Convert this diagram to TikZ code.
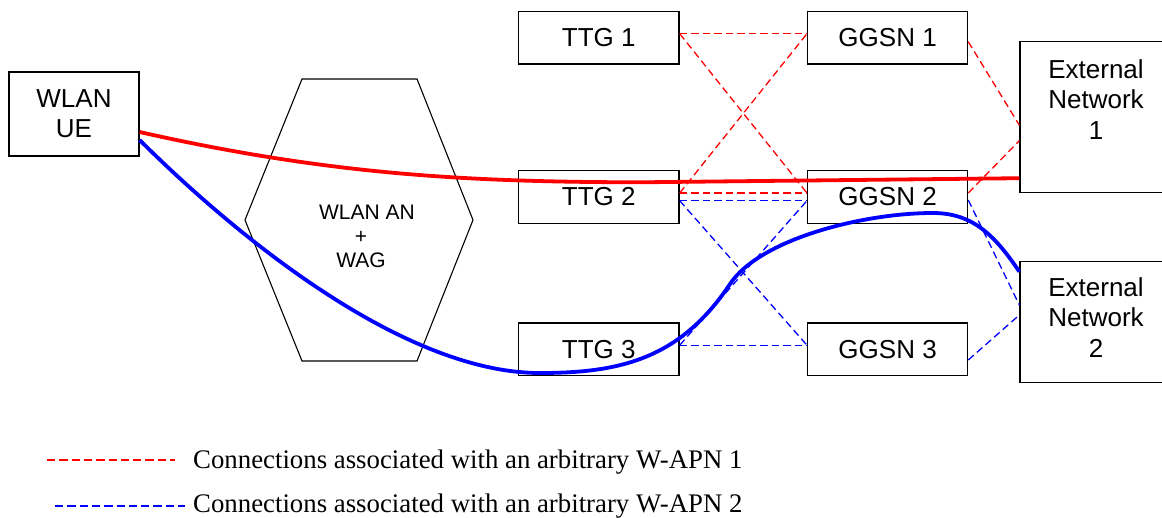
\documentclass[tikz,border=0pt]{standalone}
\usepackage{fontspec}
\setmainfont{Liberation Serif}
\setsansfont{Liberation Sans}
\begin{document}
\begin{tikzpicture}[x=1pt,y=-1pt,
  box/.style={draw=black, line width=1.3pt, rectangle, inner sep=0pt,
    font=\sffamily\fontsize{26}{30}\selectfont, align=center},
  boxlbl/.style={inner sep=0pt, font=\sffamily\fontsize{26}{30.5}\selectfont, align=center},
  hexlbl/.style={inner sep=0pt, font=\sffamily\fontsize{21}{24}\selectfont, align=center},
  apnone/.style={draw=red, line width=1.3pt, dash pattern=on 7.3pt off 4.2pt},
  apntwo/.style={draw=blue, line width=1.3pt, dash pattern=on 7.3pt off 4.2pt},
  legone/.style={draw=red, line width=1.6pt, dash pattern=on 8.3pt off 4pt},
  legtwo/.style={draw=blue, line width=1.6pt, dash pattern=on 8.3pt off 4pt},
  pathone/.style={draw=red, line width=3.8pt},
  pathtwo/.style={draw=blue, line width=3.8pt},
  legtext/.style={inner sep=0pt, anchor=base west, font=\fontsize{26.8}{30}\selectfont}]

\useasboundingbox (0,0) rectangle (1162,517);
\clip (0,0) rectangle (1162,517);

% terminal and access network
\node[box, minimum width=130, minimum height=84] (ue) at (74,114) {WLAN\\UE};
\draw[line width=1.1pt] (302,79) -- (417,79) -- (473,220) -- (417,361)
  -- (302,361) -- (245,220) -- cycle;
\node[hexlbl] (wag) at (361,236.5) {\hspace*{12pt}WLAN AN\\+\\WAG};

% tunnel terminating gateways
\node[box, minimum width=160.7, minimum height=52.7] (ttg1) at (598.7,37.7) {TTG 1};
\node[box, minimum width=160.7, minimum height=52.7] (ttg2) at (598.7,197) {TTG 2};
\node[box, minimum width=160.7, minimum height=52.7] (ttg3) at (598.7,349.2) {TTG 3};

% GGSNs
\node[box, minimum width=160, minimum height=52.7] (ggsn1) at (887.6,37.7) {GGSN 1};
\node[box, minimum width=160, minimum height=52.7] (ggsn2) at (887.6,197) {GGSN 2};
\node[box, minimum width=160, minimum height=52.7] (ggsn3) at (887.6,349.2) {GGSN 3};

% external networks
\node[box, minimum width=150, minimum height=151] (ext1) at (1095,117.2) {};
\node[boxlbl] (ext1lbl) at (1096,99.2) {External\\Network\\1};
\node[box, minimum width=150, minimum height=121] (ext2) at (1095,322.2) {};
\node[boxlbl] (ext2lbl) at (1096,317.4) {External\\Network\\2};

% W-APN 1 connections
\draw[apnone] ([yshift=4pt]ttg1.east) -- ([yshift=4pt]ggsn1.west);
\draw[apnone] ([yshift=4pt]ttg1.east) -- ([yshift=4pt]ggsn2.west);
\draw[apnone] ([yshift=4pt]ttg2.east) -- ([yshift=4pt]ggsn1.west);
\draw[apnone] ([yshift=4pt]ttg2.east) -- ([yshift=4pt]ggsn2.west);
\draw[apnone] ([yshift=-4pt]ggsn1.east) -- ([yshift=-8pt]ext1.west);
\draw[apnone] ([yshift=4pt]ggsn2.east) -- ([yshift=-23.5pt]ext1.west);

% W-APN 2 connections
\draw[apntwo] ([yshift=-3.7pt]ttg2.east) -- ([yshift=-3.7pt]ggsn2.west);
\draw[apntwo] ([yshift=-3.7pt]ttg2.east) -- ([yshift=4pt]ggsn3.west);
\draw[apntwo] ([yshift=4pt]ttg3.east) -- ([yshift=-3.7pt]ggsn2.west);
\draw[apntwo] ([yshift=4pt]ttg3.east) -- ([yshift=4pt]ggsn3.west);
\draw[apntwo] ([yshift=-3pt]ggsn2.east) -- ([yshift=17.2pt]ext2.west);
\draw[apntwo] ([yshift=-10.8pt]ggsn3.east) -- ([yshift=7.2pt]ext2.west);

% active paths
\draw[pathone] ([yshift=-18pt]ue.east) .. controls (330,175) and (470,182) .. (640,182.3)
  -- ([yshift=-61pt]ext1.west);
\draw[pathtwo] ([yshift=-26pt]ue.east) .. controls (230,230) and (400,373) .. (540,373)
  .. controls (620,373) and (680,359) .. (730,284)
  .. controls (760,239) and (863,213) .. (933,213)
  .. controls (973,213) and (995,235.7) .. ([yshift=50.5pt]ext2.west);

% legend
\coordinate (la1) at (47,460);
\coordinate (lb1) at (175,460);
\draw[legone] (la1) -- (lb1);
\node[legtext] (leg1) at (193,468) {Connections associated with an arbitrary W-APN 1};
\coordinate (la2) at (55,505.7);
\coordinate (lb2) at (185,505.7);
\draw[legtwo] (la2) -- (lb2);
\node[legtext] (leg2) at (193,512) {Connections associated with an arbitrary W-APN 2};
\end{tikzpicture}
\end{document}
